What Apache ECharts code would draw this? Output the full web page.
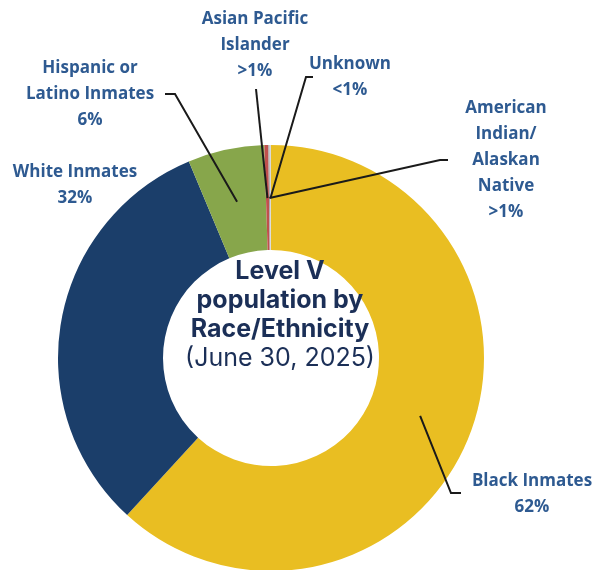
<!DOCTYPE html>
<html><head><meta charset="utf-8">
<script src="https://cdn.jsdelivr.net/npm/echarts@6/dist/echarts.min.js"></script>
<style>html,body{margin:0;padding:0;background:#fff}#c{width:597px;height:570px}</style>
</head><body><div id="c"></div>
<script>
// ---- data ----
const categories = ['Black Inmates','White Inmates','Hispanic or Latino Inmates','Asian Pacific Islander','American Indian/ Alaskan Native','Unknown'];
const values = [61.8, 31.9, 5.8, 0.3, 0.1, 0.1];
const labelNames = ['Black Inmates','White Inmates','Hispanic or\nLatino Inmates','Asian Pacific\nIslander','American\nIndian/\nAlaskan\nNative','Unknown'];
const labelPct = ['62%','32%','6%','>1%','>1%','<1%'];
const titleLines = ['Level V','population by','Race/Ethnicity'];
const subTitle = '(June 30, 2025)';

// ---- styling / layout ----
const colors = ['#E9BE22','#1B3E6A','#87A64B','#C0504D','#A5A5A5','#D9D9D9'];
const CX = 271, CY = 358, R_IN = 108, R_OUT = 213, R_ANCHOR = 160;
// label centre positions and elbow points (layout only)
const labelPos = [[532,494],[75,185],[90,94],[255,45],[506,160],[350,77]];
const elbows = [
  [[451,493],[461,493]],
  null,
  [[175,94],[165,94]],
  [[256,89]],
  [[440,160],[448,160]],
  [[306,77],[313,77]]
];

const total = values.reduce((a,b)=>a+b,0);
let cum = 0;
const mids = values.map(v => { const m = (cum + v/2) / total * 2 * Math.PI; cum += v; return m; });

const leaderLines = [];
elbows.forEach((e,i)=>{
  if (!e) return;
  const m = mids[i];
  const anchor = [CX + R_ANCHOR*Math.sin(m), CY - R_ANCHOR*Math.cos(m)];
  leaderLines.push({type:'polyline', z:100, silent:true,
    shape:{points:[anchor].concat(e)},
    style:{stroke:'#1a1a1a', lineWidth:2, fill:null}});
});

const chart = echarts.init(document.getElementById('c'), null, {renderer:'canvas'});
chart.setOption({
  animation:false,
  title:{
    text: titleLines.map(t=>'{b|'+t+'}').join('\n') + '\n{r|'+subTitle+'}',
    left: 275, top: 252, textAlign:'center',
    textStyle:{ rich:{
      b:{fontFamily:'Inter', fontWeight:'bold', fontSize:25, color:'#1B2F57', lineHeight:29},
      r:{fontFamily:'Inter', fontWeight:'normal', fontSize:25, color:'#1B2F57', lineHeight:29}
    }}
  },
  graphic: leaderLines,
  series:[{
    type:'pie',
    center:[CX, CY],
    radius:[R_IN, R_OUT],
    startAngle:90,
    clockwise:true,
    avoidLabelOverlap:false,
    itemStyle:{borderWidth:0},
    label:{
      show:true, position:'outside',
      fontFamily:'Open Sans', fontWeight:'bold', fontSize:17, lineHeight:26,
      color:'#2E5A91', align:'center',
      formatter: p => labelNames[p.dataIndex] + '\n' + labelPct[p.dataIndex]
    },
    labelLine:{show:false},
    labelLayout: function(params){
      const i = params.dataIndex;
      return {x: labelPos[i][0], y: labelPos[i][1], align:'center', verticalAlign:'middle'};
    },
    data: categories.map((c,i)=>({name:c, value:values[i], itemStyle:{color:colors[i]}}))
  }]
});
</script>
</body></html>
